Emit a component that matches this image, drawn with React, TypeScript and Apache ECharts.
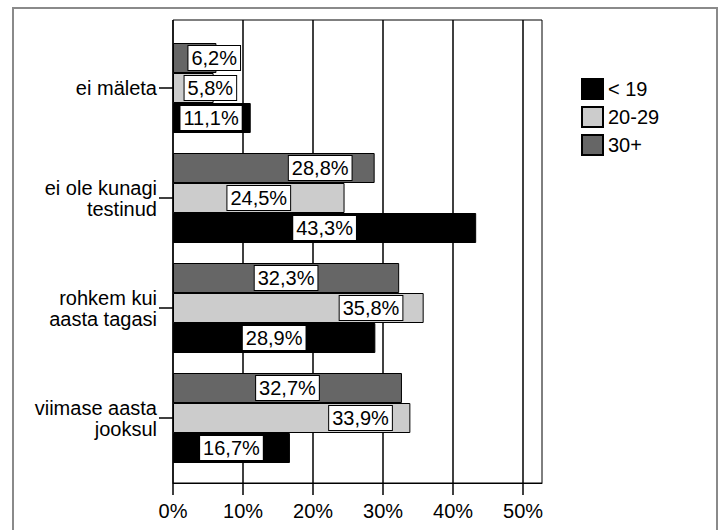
import React, { useEffect, useRef } from "react";
import * as echarts from "echarts";

const categories = [
  "ei mäleta",
  "ei ole kunagi\ntestinud",
  "rohkem kui\naasta tagasi",
  "viimase aasta\njooksul",
];
const seriesNames = ["< 19", "20-29", "30+"];
const under19 = [11.1, 43.3, 28.9, 16.7];
const age20to29 = [5.8, 24.5, 35.8, 33.9];
const age30plus = [6.2, 28.8, 32.3, 32.7];
const xTicks = [0, 10, 20, 30, 40, 50];
const xMax = 52.7;

// label anchor as fraction of bar length (style only)
const labelFrac = {
  under19: [0.49, 0.5, 0.5, 0.5],
  age20to29: [0.92, 0.5, 0.79, 0.79],
  age30plus: [0.95, 0.73, 0.5, 0.5],
};
const colors = { under19: "#000000", age20to29: "#cccccc", age30plus: "#666666" };

const FONT = "'Liberation Sans', Arial, sans-serif";

function makeSeries(name: string, values: number[], frac: number[], color: string) {
  return {
    name,
    type: "bar",
    xAxisIndex: 1,
    yAxisIndex: 1,
    barWidth: 30,
    barGap: "0%",
    itemStyle: { color, borderColor: "#000", borderWidth: 1 },
    data: values.map((v, i) => ({
      value: v,
      label: { position: [`${frac[i] * 100}%`, "50%"] },
    })),
    label: {
      show: true,
      formatter: (p: any) => `${Number(p.value).toFixed(1).replace(".", ",")}%`,
      align: "center",
      verticalAlign: "middle",
      color: "#000",
      fontFamily: FONT,
      fontSize: 20,
      lineHeight: 21,
      backgroundColor: "#fff",
      borderColor: "#000",
      borderWidth: 1,
      padding: [2, 3, 1, 3],
    },
  };
}

export default function App() {
  const ref = useRef<HTMLDivElement>(null);
  useEffect(() => {
    if (!ref.current) return;
    const chart = echarts.init(ref.current, undefined, { renderer: "svg" });
    chart.setOption({
      animation: false,
      backgroundColor: "#fff",
      textStyle: { fontFamily: FONT },
      graphic: [
        {
          type: "rect",
          silent: true,
          shape: { x: 13, y: 8, width: 704, height: 600 },
          style: { fill: "none", stroke: "#8a8a8a", lineWidth: 2 },
        },
      ],
      legend: {
        orient: "vertical",
        left: 581,
        top: 78,
        padding: 0,
        itemWidth: 21,
        itemHeight: 20,
        itemGap: 6,
        icon: "rect",
        data: seriesNames,
        textStyle: { fontSize: 20, color: "#000", fontFamily: FONT },
      },
      grid: [
        {
          left: 173,
          top: 20,
          width: 369,
          height: 463,
          show: true,
          borderColor: "#000",
          borderWidth: 1,
          backgroundColor: "transparent",
        },
        { left: 173, top: 33, width: 369, height: 440 },
      ],
      xAxis: [
        {
          gridIndex: 0,
          type: "value",
          min: 0,
          max: xMax,
          interval: 10,
          axisLine: { show: true, lineStyle: { color: "#000", width: 1 } },
          axisTick: {
            show: true,
            length: 12,
            customValues: xTicks,
            lineStyle: { color: "#000", width: 1.5 },
          },
          axisLabel: {
            customValues: xTicks,
            formatter: "{value}%",
            fontSize: 20,
            color: "#000",
            fontFamily: FONT,
            margin: 18,
          },
          splitLine: { show: true, lineStyle: { color: "#000", width: 1.5 } },
        },
        {
          gridIndex: 1,
          type: "value",
          min: 0,
          max: xMax,
          show: false,
          splitLine: { show: false },
        },
      ],
      yAxis: [
        { gridIndex: 0, type: "value", show: false, splitLine: { show: false } },
        {
          gridIndex: 1,
          type: "category",
          inverse: true,
          data: categories,
          axisLine: { show: false },
          axisTick: {
            show: true,
            alignWithLabel: true,
            length: 14,
            lineStyle: { color: "#000", width: 1.5 },
          },
          axisLabel: {
            fontSize: 20,
            lineHeight: 21,
            color: "#000",
            fontFamily: FONT,
            margin: 16,
            align: "right",
            padding: [10, 0, 0, 0],
          },
          splitLine: { show: false },
        },
      ],
      series: [
        makeSeries(seriesNames[2], age30plus, labelFrac.age30plus, colors.age30plus),
        makeSeries(seriesNames[1], age20to29, labelFrac.age20to29, colors.age20to29),
        makeSeries(seriesNames[0], under19, labelFrac.under19, colors.under19),
      ],
    });
    return () => chart.dispose();
  }, []);
  return (
    <div
      ref={ref}
      style={{ position: "fixed", left: 0, top: 0, width: 723, height: 530 }}
    />
  );
}
